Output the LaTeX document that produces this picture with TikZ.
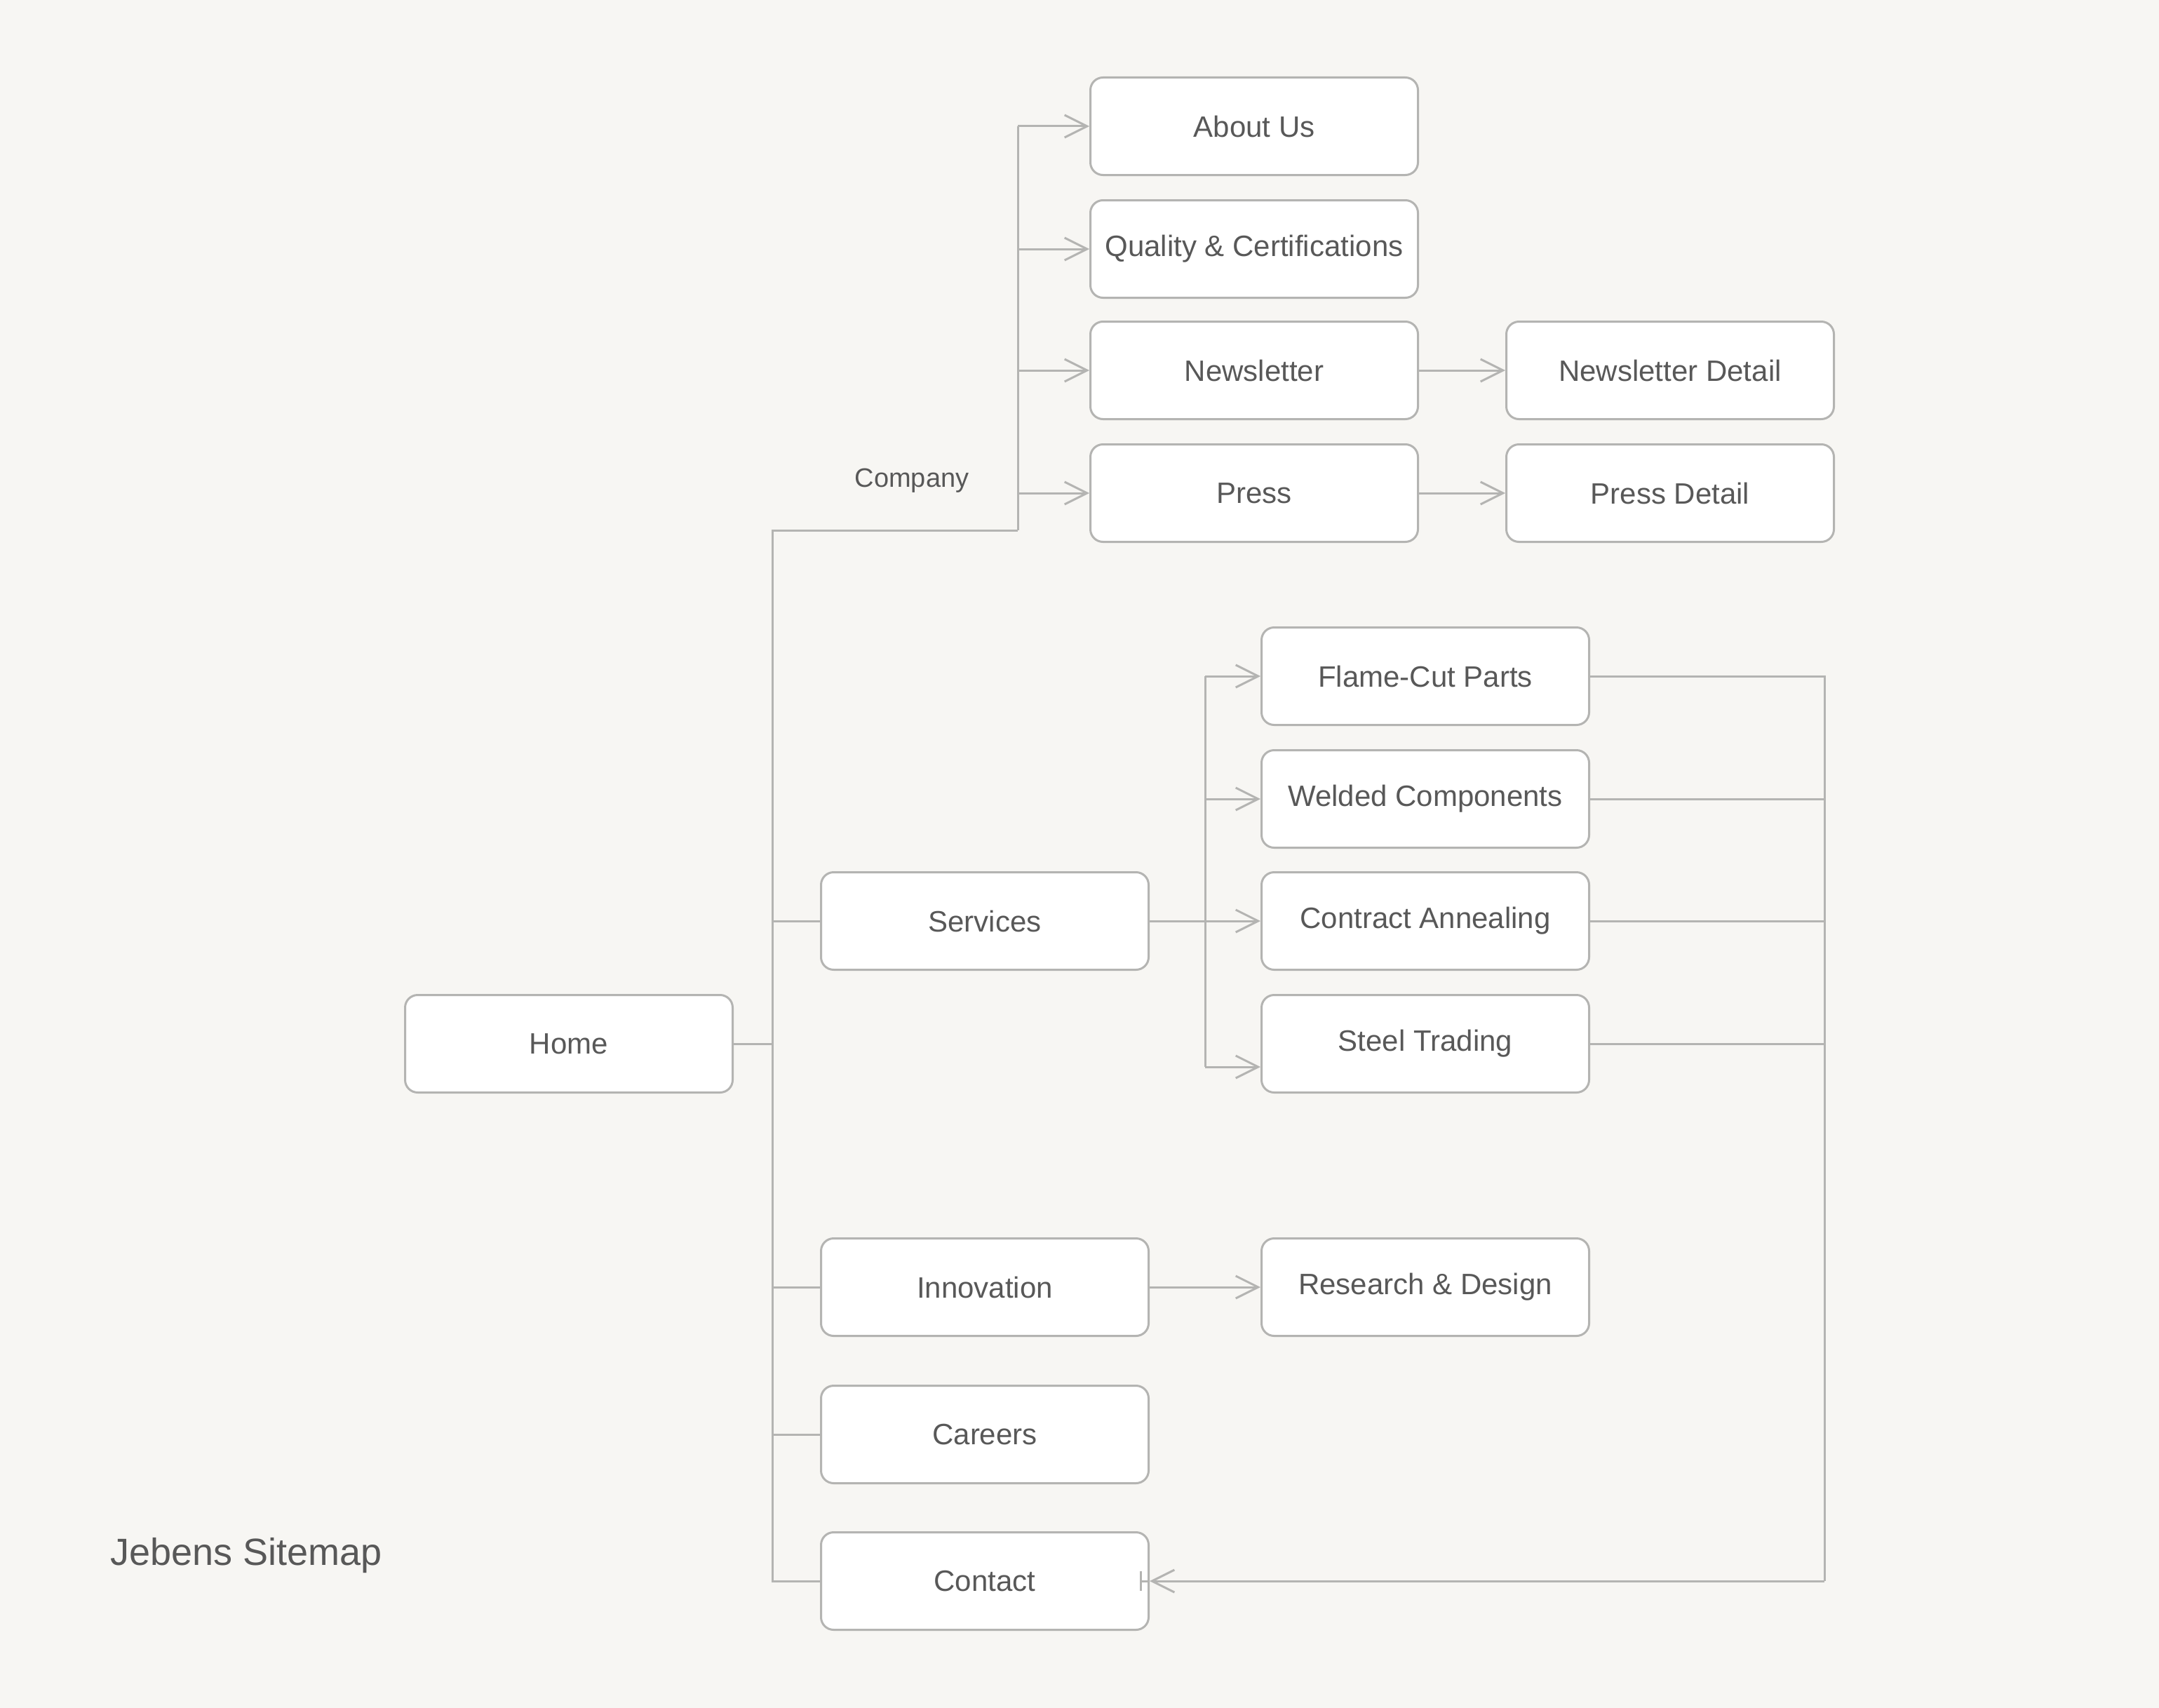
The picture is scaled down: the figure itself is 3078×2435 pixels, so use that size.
\documentclass[tikz,border=0pt]{standalone}
\usepackage{fontspec}
\setmainfont{Liberation Sans}
\usetikzlibrary{arrows.meta}
\definecolor{bg}{HTML}{F7F6F3}
\definecolor{edge}{HTML}{B4B4B2}
\definecolor{txt}{HTML}{585858}
\tikzset{
  page/.style={x=1pt,y=-1pt},
  box/.style={draw=edge,fill=white,line width=3pt,rounded corners=18pt,
    minimum width=467pt,minimum height=139pt,inner sep=0pt,text=txt,
    font=\fontsize{42}{50}\selectfont},
  conn/.style={draw=edge,line width=3pt},
  arr/.style={conn,-{Straight Barb[length=32pt,width=32pt,line width=3pt]}},
  lbl/.style={text=txt,inner sep=0pt}
}
\begin{document}
\begin{tikzpicture}[page]
\fill[bg] (0,0) rectangle (3078,2435);
\useasboundingbox (0,0) rectangle (3078,2435);

% nodes
\node[box] (Home) at (811,1488) {Home};
\node[box] (About) at (1788,180) {About Us};
\node[box] (Quality) at (1788,355) {Quality \& Certifications};
\node[box] (News) at (1788,528) {Newsletter};
\node[box] (Press) at (1788,703) {Press};
\node[box] (NewsD) at (2381,528) {Newsletter Detail};
\node[box] (PressD) at (2381,703) {Press Detail};
\node[box] (Services) at (1404,1313) {Services};
\node[box] (Flame) at (2032,964) {Flame-Cut Parts};
\node[box] (Welded) at (2032,1139) {Welded Components};
\node[box] (Anneal) at (2032,1313) {Contract Annealing};
\node[box] (Steel) at (2032,1488) {Steel Trading};
\node[box] (Innov) at (1404,1835) {Innovation};
\node[box] (RD) at (2032,1835) {Research \& Design};
\node[box] (Careers) at (1404,2045) {Careers};
\node[box] (Contact) at (1404,2254) {Contact};
\node[lbl,font=\fontsize{38}{44}\selectfont] (CompanyLbl) at (1300,685) {Company};
\node[lbl,anchor=west,font=\fontsize{54}{64}\selectfont] (Title) at (157,2218) {Jebens Sitemap};

% coordinates
\coordinate (ttop) at (1101,756);
\coordinate (tbot) at (1101,2254);
\coordinate (cbot) at (1451,756);
\coordinate (ctop) at (1451,180);
\coordinate (stop) at (1718,964);
\coordinate (sbot) at (1718,1521);
\coordinate (rtop) at (2601,964);
\coordinate (rbot) at (2601,2254);

% trunk from Home
\draw[conn] (Home.east) -- (Home.east -| ttop);
\draw[conn] (cbot) -- (ttop) -- (tbot) -- (Contact.west);
\draw[conn] (Services.west -| ttop) -- (Services.west);
\draw[conn] (Innov.west -| ttop) -- (Innov.west);
\draw[conn] (Careers.west -| ttop) -- (Careers.west);

% company branch
\draw[conn] (cbot) -- (ctop);
\draw[arr] (ctop) -- (About.west);
\draw[arr] (Quality.west -| ctop) -- (Quality.west);
\draw[arr] (News.west -| ctop) -- (News.west);
\draw[arr] (Press.west -| ctop) -- (Press.west);
\draw[arr] (News.east) -- (NewsD.west);
\draw[arr] (Press.east) -- (PressD.west);

% services branch
\draw[conn] (Services.east) -- (Services.east -| stop);
\draw[conn] (stop) -- (sbot);
\draw[arr] (stop) -- (Flame.west);
\draw[arr] (Welded.west -| stop) -- (Welded.west);
\draw[arr] (Anneal.west -| stop) -- (Anneal.west);
\draw[arr] (sbot) -- (sbot -| Steel.west);

% innovation
\draw[arr] (Innov.east) -- (RD.west);

% right bus to contact
\draw[conn] (Flame.east) -- (rtop) -- (rbot);
\draw[conn] (Welded.east) -- (Welded.east -| rtop);
\draw[conn] (Anneal.east) -- (Anneal.east -| rtop);
\draw[conn] (Steel.east) -- (Steel.east -| rtop);
\draw[arr] (rbot) -- (Contact.east);
\draw[conn] ([xshift=-13pt,yshift=-14pt]Contact.east) -- ([xshift=-13pt,yshift=14pt]Contact.east);
\draw[conn] ([xshift=-13pt]Contact.east) -- (Contact.east);
\end{tikzpicture}
\end{document}
